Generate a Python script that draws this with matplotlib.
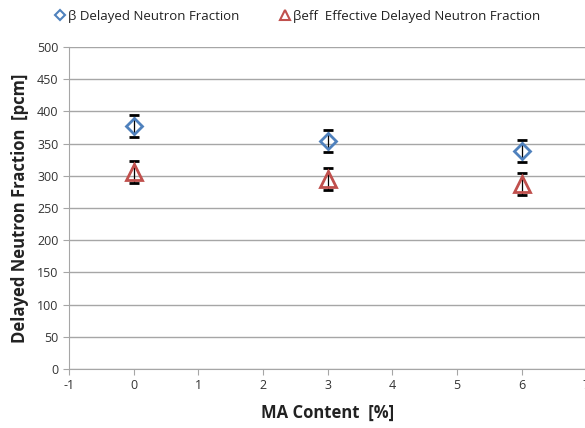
import numpy as np
import matplotlib.pyplot as plt

###############################################################################
# Data
###############################################################################
MA_CONTENT = [0, 3, 6]
BETA = [377, 354, 339]
BETA_ERR = [17, 17, 17]
BETA_EFF = [306, 295, 287]
BETA_EFF_ERR = [17, 17, 17]
LABELS = ['β Delayed Neutron Fraction', 'βeff  Effective Delayed Neutron Fraction']

(BLUE, RED, GRID) = ('#4F81BD', '#C0504D', '#A6A6A6')
plt.rcParams['font.family'] = ['Open Sans', 'DejaVu Sans']
plt.rcParams['axes.unicode_minus'] = False

###############################################################################
# Plot
###############################################################################
fig = plt.figure(figsize=(5.85, 4.28), dpi=100)
ax = fig.add_axes([69/585, (428-369)/428, 1-69/585+0.002, (369-47)/428])

h1 = ax.errorbar(
    MA_CONTENT, BETA, yerr=BETA_ERR, fmt='D', ms=8, mfc='none', mec=BLUE,
    mew=2, ecolor='black', elinewidth=0.9, capsize=3.5, capthick=0.8, zorder=3
)
h2 = ax.errorbar(
    MA_CONTENT, BETA_EFF, yerr=BETA_EFF_ERR, fmt='^', ms=11, mfc='none', mec=RED,
    mew=2, ecolor='black', elinewidth=0.9, capsize=3.5, capthick=0.8, zorder=3
)

ax.set_xlim(-1, 7)
ax.set_ylim(0, 500)
ax.set_xticks(np.arange(-1, 8, 1))
ax.set_yticks(np.arange(0, 501, 50))
ax.yaxis.grid(True, color=GRID, lw=1)
ax.set_axisbelow(True)
for s in ['top', 'right']:
    ax.spines[s].set_visible(False)
for s in ['left', 'bottom']:
    ax.spines[s].set_color(GRID)
ax.tick_params(axis='both', colors=GRID, labelcolor='#333333', labelsize=9, length=4)

ax.set_xlabel('MA Content  [%]', fontsize=12, fontweight='bold', color='#222222', labelpad=8)
ax.set_ylabel('Delayed Neutron Fraction  [pcm]', fontsize=12, fontweight='bold', color='#222222', labelpad=6)

leg_handles = [
    plt.Line2D([], [], ls='none', marker='D', ms=5, mfc='none', mec=BLUE, mew=1.5),
    plt.Line2D([], [], ls='none', marker='^', ms=7, mfc='none', mec=RED, mew=1.5),
]
fig.legend(
    leg_handles, LABELS, loc='center', bbox_to_anchor=(0.51, 0.962), ncol=2,
    frameon=False, fontsize=9.5, handlelength=0.6, handletextpad=0.3,
    columnspacing=3.2, labelcolor='#222222'
)

fig.savefig('out.png', dpi=100)
plt.close('all')
